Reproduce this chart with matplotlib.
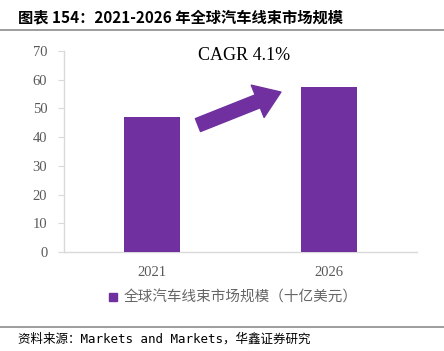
import matplotlib
matplotlib.use("Agg")
import matplotlib.pyplot as plt
from matplotlib.lines import Line2D

years = ['2021', '2026']
market_size = [47.0, 57.5]
y_ticks = [0, 10, 20, 30, 40, 50, 60, 70]
series_name = '全球汽车线束市场规模（十亿美元）'
title = '图表 154：2021-2026 年全球汽车线束市场规模'
source = '资料来源：Markets and Markets，华鑫证券研究'
cagr_text = 'CAGR 4.1%'

purple = '#7030A0'
grey_txt = '#595959'
cjk = ['Noto Sans CJK SC', 'DejaVu Sans']

W, H = 444, 351
fig = plt.figure(figsize=(W / 100, H / 100), dpi=100)

# title + rule
fig.text(18 / W, 1 - 17 / H, title, family=cjk, fontsize=11, fontweight='bold',
         va='center', ha='left', color='black')
fig.add_artist(Line2D([0, 1], [1 - 30 / H, 1 - 30 / H], color='#8c8c8c', lw=1.2))

ax = fig.add_axes([64 / W, 1 - 252 / H, (417 - 64) / W, (252 - 51) / H])
x = list(range(len(years)))
ax.bar(x, market_size, width=0.317, color=purple, zorder=3)
ax.set_xlim(-0.5, 1.5)
ax.set_ylim(0, 70)
ax.set_yticks(y_ticks)
ax.set_xticks(x)
ax.set_xticklabels(years)
for s in ['top', 'right']:
    ax.spines[s].set_visible(False)
for s in ['left', 'bottom']:
    ax.spines[s].set_color('#d9d9d9')
    ax.spines[s].set_linewidth(1.0)
ax.tick_params(axis='y', length=4, color='#d9d9d9', labelsize=10.5,
               labelcolor=grey_txt, pad=8)
ax.tick_params(axis='x', length=0, labelsize=10.5, labelcolor=grey_txt, pad=10)
for lab in ax.get_xticklabels() + ax.get_yticklabels():
    lab.set_family('Liberation Serif')

# growth arrow + CAGR label
ax.annotate('', xy=(0.729, 55.7), xytext=(0.259, 44.2),
            arrowprops=dict(arrowstyle='simple,head_length=18,head_width=25,tail_width=10',
                            mutation_scale=1, color=purple, shrinkA=0, shrinkB=0))
ax.text(0.523, 68.4, cagr_text, family='Liberation Serif', fontsize=13,
        ha='center', va='center', color='black')

# legend
h = Line2D([], [], marker='s', color=purple, linestyle='none', markersize=6)
leg = fig.legend([h], [series_name], loc='center', bbox_to_anchor=(0.522, 1 - 298 / H),
                 frameon=False, handletextpad=0.2, handlelength=1.0,
                 prop={'family': cjk, 'size': 10.5, 'weight': 'light'})
for t in leg.get_texts():
    t.set_color('#666666')

# source rule + text
fig.add_artist(Line2D([0, 1], [1 - 327 / H, 1 - 327 / H], color='#8c8c8c', lw=1.2))
fig.text(18 / W, 1 - 339 / H, source, family=['DejaVu Sans Mono', 'Noto Sans CJK SC'],
         fontsize=9, va='center', ha='left', color='black')

fig.savefig('out.png', dpi=100)
